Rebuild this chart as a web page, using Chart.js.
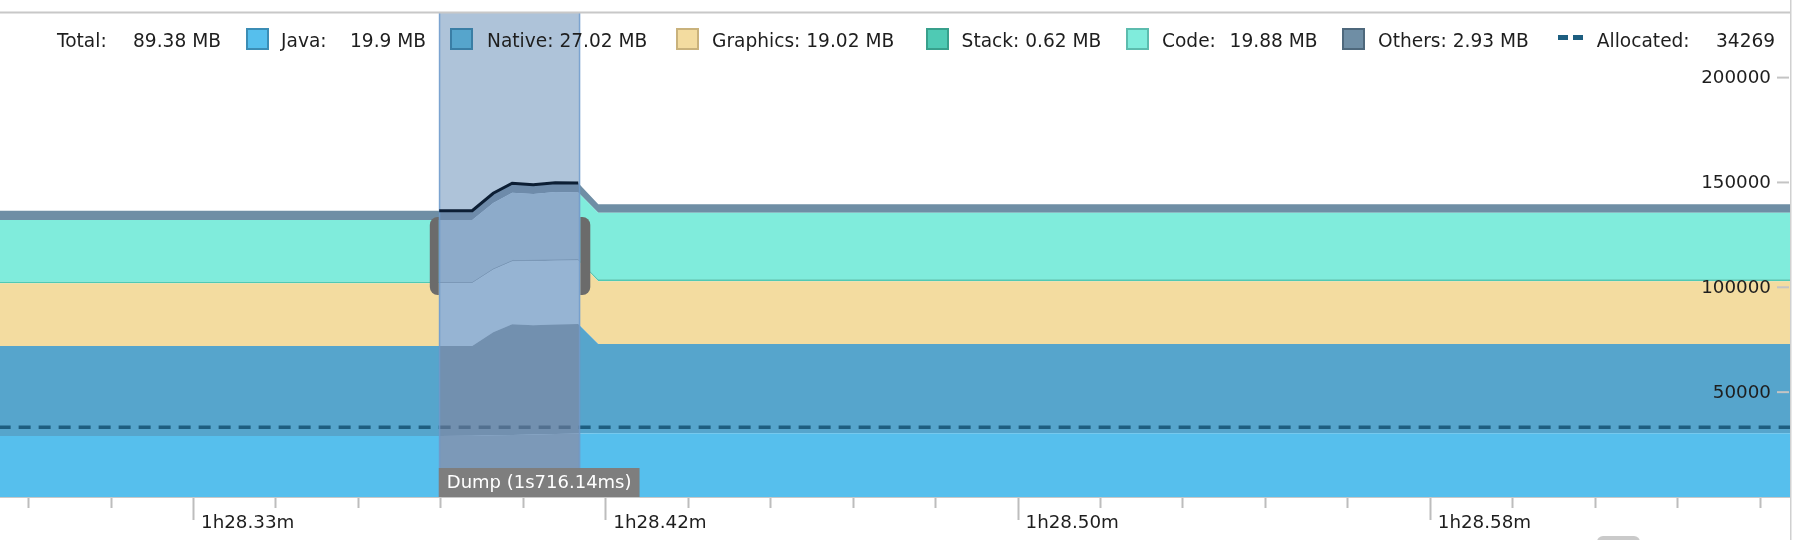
<!doctype html>
<html lang="en">
  <head>
    <meta charset="utf-8">
    <title>Memory</title>
    <style>
      * {
        margin: 0;
        padding: 0;
      }
      body {
        width: 1794px;
        height: 540px;
        overflow: hidden;
        background: #fff;
        font-family: "DejaVu Sans", sans-serif;
      }
      .chartBox {
        position: absolute;
        left: 0;
        top: 0;
        width: 1794px;
        height: 540px;
      }
      .legend {
        position: absolute;
        left: 0;
        top: 0;
        width: 1794px;
        height: 60px;
        font-size: 18.6px;
        color: #1e1e1e;
      }
      .legend span {
        position: absolute;
        top: 30px;
        line-height: 22px;
        white-space: nowrap;
      }
      .legend i {
        position: absolute;
        top: 28px;
        width: 23px;
        height: 22px;
        box-sizing: border-box;
        border: 2px solid;
      }
      .legend b {
        position: absolute;
        top: 35px;
        width: 10px;
        height: 5px;
        background: #1d5e80;
      }
    </style>
  </head>
  <body>
    <div class="chartBox">
      <canvas id="myChart"></canvas>
    </div>
    <div class="legend" id="legend"></div>
    <script src="https://cdn.jsdelivr.net/npm/chart.js/dist/chart.umd.min.js"></script>
    <script>
    // samples (seconds after 1h28m)
    const seconds   = [17.6, 22.98, 23.38, 23.635, 23.865, 24.12, 24.387, 24.666, 24.909, 39.4];
    const javaKb     = [29100, 29100, 29250, 29400, 29550, 29750, 30000, 30300, 30400, 30400];
    const nativeKb   = [42900, 42900, 42750, 49150, 52820, 52140, 52200, 52200, 42570, 42570];
    const graphicsKb = [29920, 29920, 29920, 29800, 29880, 30560, 30450, 30250, 29910, 29910];
    const stackKb    = [770, 770, 770, 750, 750, 750, 750, 750, 950, 950];
    const codeKb     = [29420, 29420, 29420, 31100, 32100, 31300, 32100, 31700, 31770, 31770];
    const othersKb   = [4440, 4440, 4440, 4650, 4520, 4450, 4400, 4560, 4000, 4000];
    const allocated  = [33250, 33250, 33250, 33250, 33250, 33250, 33250, 33250, 33250, 33250];

    const seriesNames  = ['Java', 'Native', 'Graphics', 'Stack', 'Code', 'Others'];
    const legendValues = ['19.9 MB', '27.02 MB', '19.02 MB', '0.62 MB', '19.88 MB', '2.93 MB'];
    const totalValue = '89.38 MB';
    const allocatedValue = '34269';

    const dumpStart = 22.975;
    const dumpLength = 1.71614;
    const dumpLabel = 'Dump (1s716.14ms)';

    const xTickSeconds = [20, 25, 30, 35];
    const xTickLabels = ['1h28.33m', '1h28.42m', '1h28.50m', '1h28.58m'];
    const yTickValues = [50000, 100000, 150000, 200000];

    // styles
    const fills   = ['#56bfed', '#56a5cc', '#f3dca0', '#4fcab4', '#80ecdc', '#6f8ea5'];
    const borders = ['#3b8db5', '#3a7ea5', '#c9b27c', '#38a08c', '#5cbcae', '#4e687c'];

    // legend
    const legendPos = [
      {box: 246, label: 281, value: 350},
      {box: 449.5, label: 487},
      {box: 676, label: 712},
      {box: 925.5, label: 961.6},
      {box: 1126, label: 1162, value: 1229.6},
      {box: 1341.5, label: 1378}
    ];
    const legend = document.getElementById('legend');
    function addText(txt, x) {
      const s = document.createElement('span');
      s.textContent = txt;
      s.style.left = x + 'px';
      legend.appendChild(s);
    }
    addText('Total:', 57);
    addText(totalValue, 133);
    seriesNames.forEach((name, i) => {
      const p = legendPos[i];
      const box = document.createElement('i');
      box.style.left = p.box + 'px';
      box.style.background = fills[i];
      box.style.borderColor = borders[i];
      legend.appendChild(box);
      if (p.value) {
        addText(name + ':', p.label);
        addText(legendValues[i], p.value);
      } else {
        addText(name + ': ' + legendValues[i], p.label);
      }
    });
    [1557.7, 1572.5].forEach(x => {
      const d = document.createElement('b');
      d.style.left = x + 'px';
      legend.appendChild(d);
    });
    addText('Allocated:', 1596.8);
    addText(allocatedValue, 1716);

    // datasets
    const seriesData = [javaKb, nativeKb, graphicsKb, stackKb, codeKb, othersKb];
    const datasets = seriesData.map((vals, i) => ({
      label: seriesNames[i],
      data: seconds.map((t, j) => ({x: t, y: vals[j]})),
      backgroundColor: fills[i],
      borderColor: fills[i],
      borderWidth: 0,
      pointRadius: 0,
      tension: 0,
      fill: i === 0 ? 'origin' : '-1',
      stack: 'memory',
      order: 0
    }));
    datasets.push({
      label: 'Allocated',
      data: seconds.map((t, j) => ({x: t, y: allocated[j]})),
      borderColor: '#1d5e80',
      borderWidth: 3.5,
      borderDash: [12, 8],
      borderDashOffset: 17,
      pointRadius: 0,
      fill: false,
      stack: 'allocated',
      order: -1
    });
    const selectionPts = [];
    seconds.forEach((t, j) => {
      if (t >= dumpStart && t <= dumpStart + dumpLength) {
        selectionPts.push({x: t, y: seriesData.reduce((s, a) => s + a[j], 0)});
      }
    });
    datasets.push({
      label: 'Selection',
      data: selectionPts,
      borderColor: '#0c1e34',
      borderWidth: 3,
      pointRadius: 0,
      fill: false,
      stack: 'selection',
      order: -2
    });
    const selIndex = datasets.length - 1;

    const decor = {
      id: 'decor',
      beforeDraw(chart) {
        const c = chart.ctx;
        c.save();
        c.fillStyle = '#fff';
        c.fillRect(0, 0, chart.width, chart.height);
        c.restore();
      },
      beforeDatasetDraw(chart, args) {
        if (args.index !== selIndex) return;
        const c = chart.ctx;
        const a = chart.chartArea;
        const xs = chart.scales.x;
        const bx0 = xs.getPixelForValue(dumpStart);
        const bx1 = xs.getPixelForValue(dumpStart + dumpLength);
        const cy = (a.top + a.bottom) / 2;
        // handle behind the selection
        c.save();
        c.beginPath();
        c.rect(0, 0, chart.width, chart.height);
        c.rect(bx0, 0, bx1 - bx0, chart.height);
        c.clip('evenodd');
        c.fillStyle = '#6b6b6b';
        c.beginPath();
        c.roundRect(bx0 - 9, cy - 38, bx1 - bx0 + 19, 78, 8);
        c.fill();
        c.restore();
        // selection band
        c.save();
        c.beginPath();
        c.rect(bx0, a.top, bx1 - bx0, a.bottom - a.top);
        c.clip();
        c.globalCompositeOperation = 'color';
        c.fillStyle = '#7d8fa2';
        c.fillRect(bx0, a.top, bx1 - bx0, a.bottom - a.top);
        c.globalCompositeOperation = 'source-over';
        c.fillStyle = 'rgba(100,140,182,0.52)';
        c.fillRect(bx0, a.top, bx1 - bx0, a.bottom - a.top);
        c.restore();
        c.save();
        c.strokeStyle = 'rgba(110,155,205,0.8)';
        c.lineWidth = 1.5;
        c.beginPath();
        c.moveTo(bx0 + 0.75, a.top);
        c.lineTo(bx0 + 0.75, a.bottom);
        c.moveTo(bx1 - 0.75, a.top);
        c.lineTo(bx1 - 0.75, a.bottom);
        c.stroke();
        c.restore();
      },
      afterDatasetsDraw(chart) {
        const c = chart.ctx;
        const a = chart.chartArea;
        const bx0 = chart.scales.x.getPixelForValue(dumpStart);
        c.save();
        c.font = '18px "DejaVu Sans"';
        const w = c.measureText(dumpLabel).width + 16;
        c.fillStyle = '#7e7e7e';
        c.fillRect(bx0, a.bottom - 29, w, 29);
        c.fillStyle = '#fff';
        c.textBaseline = 'middle';
        c.fillText(dumpLabel, bx0 + 8, a.bottom - 14);
        c.restore();
      },
      afterDraw(chart) {
        const c = chart.ctx;
        const a = chart.chartArea;
        const ys = chart.scales.y;
        c.save();
        c.strokeStyle = '#c8c8c8';
        c.lineWidth = 2;
        c.beginPath();
        c.moveTo(0, a.top - 0.5);
        c.lineTo(a.right, a.top - 0.5);
        c.stroke();
        c.strokeStyle = '#d0d0d0';
        c.lineWidth = 1.5;
        c.beginPath();
        c.moveTo(a.right + 0.75, 0);
        c.lineTo(a.right + 0.75, chart.height);
        c.stroke();
        // y axis: value labels inside the plot with short marks
        c.strokeStyle = '#c4c4c4';
        c.lineWidth = 2;
        c.fillStyle = '#1e1e1e';
        c.font = '18.3px "DejaVu Sans"';
        c.textAlign = 'right';
        c.textBaseline = 'middle';
        yTickValues.forEach(v => {
          const y = ys.getPixelForValue(v);
          c.beginPath();
          c.moveTo(a.right - 13, y);
          c.lineTo(a.right - 1, y);
          c.stroke();
          c.fillText(String(v), a.right - 19, y + 1);
        });
        c.fillStyle = '#cacaca';
        c.beginPath();
        c.roundRect(1597, 536, 43, 14, 6);
        c.fill();
        c.restore();
      }
    };

    Chart.defaults.font.family = '"DejaVu Sans", sans-serif';
    Chart.defaults.font.size = 18.3;
    Chart.defaults.color = '#1e1e1e';

    const config = {
      type: 'line',
      data: {datasets},
      options: {
        responsive: true,
        maintainAspectRatio: false,
        animation: false,
        layout: {padding: {top: 13, left: 0, right: 0, bottom: 0}},
        plugins: {
          legend: {display: false},
          tooltip: {enabled: false}
        },
        scales: {
          x: {
            type: 'linear',
            min: 17.653,
            max: 39.363,
            afterFit: s => {
              s.height = 43;
              s.paddingLeft = 0;
              s.paddingRight = 0;
            },
            border: {display: true, color: '#c8c8c8', width: 2},
            grid: {
              drawOnChartArea: false,
              tickLength: 23,
              tickColor: '#bdbdbd',
              tickWidth: 2,
              tickBorderDash: ctx => (ctx.tick && xTickSeconds.includes(ctx.tick.value)) ? [] : [10, 40]
            },
            ticks: {
              stepSize: 1,
              autoSkip: false,
              includeBounds: false,
              maxRotation: 0,
              align: 'start',
              labelOffset: 7.5,
              padding: -8,
              callback: v => {
                const i = xTickSeconds.indexOf(v);
                return i >= 0 ? xTickLabels[i] : '';
              }
            }
          },
          y: {
            position: 'right',
            stacked: true,
            min: 0,
            max: 230800,
            afterFit: s => {
              s.width = 4;
              s.paddingTop = 0;
              s.paddingBottom = 0;
            },
            border: {display: false},
            grid: {display: false},
            ticks: {
              display: false,
              stepSize: 50000,
              includeBounds: false
            }
          }
        }
      },
      plugins: [decor]
    };

    const myChart = new Chart(document.getElementById('myChart'), config);
    </script>
  </body>
</html>
